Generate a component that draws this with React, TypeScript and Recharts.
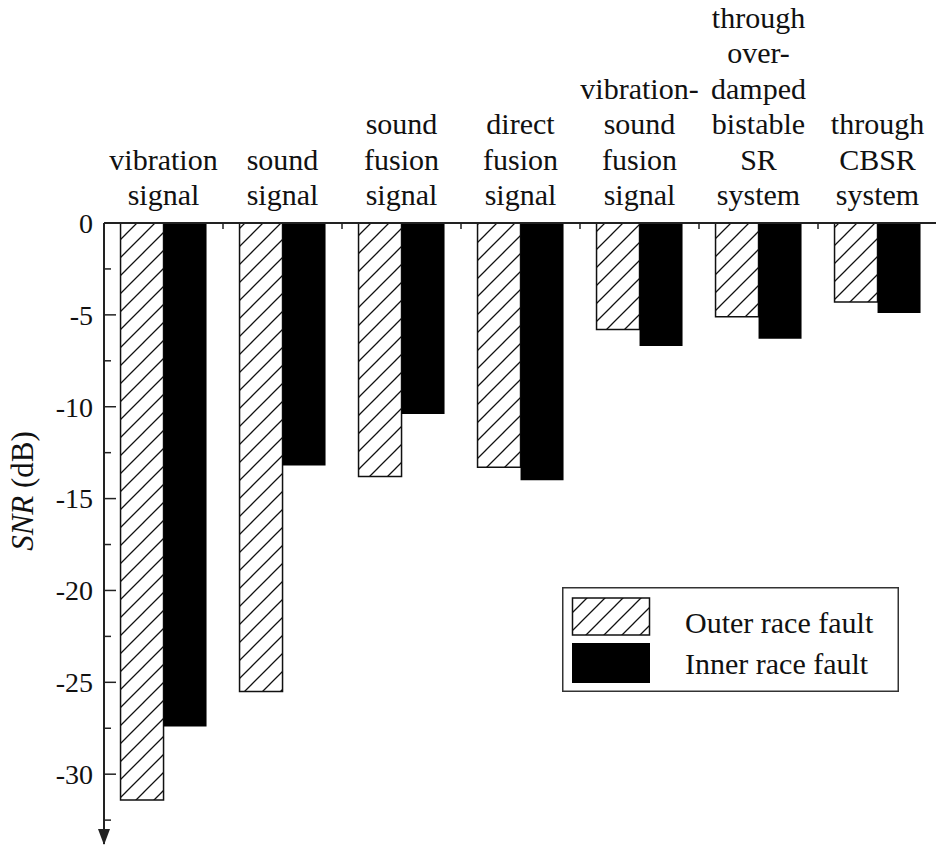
import React from 'react';
import { BarChart, Bar, XAxis, YAxis, Legend } from 'recharts';

const categoryLines: string[][] = [
  ['vibration', 'signal'],
  ['sound', 'signal'],
  ['sound', 'fusion', 'signal'],
  ['direct', 'fusion', 'signal'],
  ['vibration-', 'sound', 'fusion', 'signal'],
  ['through', 'over-', 'damped', 'bistable', 'SR', 'system'],
  ['through', 'CBSR', 'system'],
];
const outerRace = [-31.4, -25.5, -13.8, -13.3, -5.8, -5.1, -4.3];
const innerRace = [-27.4, -13.2, -10.4, -14.0, -6.7, -6.3, -4.9];
const yTicks = [0, -2.5, -5, -7.5, -10, -12.5, -15, -17.5, -20, -22.5, -25, -27.5, -30, -32.5];
const yMajorTicks = [0, -5, -10, -15, -20, -25, -30];
const yEnd = -33.8;

const data = categoryLines.map((lines, i) => ({
  name: lines.join(' '),
  outer: outerRace[i],
  inner: innerRace[i],
}));

const FONT = '"Liberation Serif", "Times New Roman", serif';
const W = 944;
const H = 852;
const MARGIN = { top: 8, right: 7, bottom: 8, left: 8 };
const YAXIS_W = 96;
const XAXIS_H = 215;
const PLOT_W = W - MARGIN.left - MARGIN.right - YAXIS_W;
const BAND = PLOT_W / categoryLines.length;
const AXIS_COLOR = '#222';

const XTick = (props: any) => {
  const { x, y, payload } = props;
  const idx = data.findIndex((d) => d.name === payload.value);
  const lines = idx >= 0 ? categoryLines[idx] : [String(payload.value)];
  const n = lines.length;
  return (
    <g>
      <line x1={x + BAND / 2} x2={x + BAND / 2} y1={y} y2={y + 6} stroke={AXIS_COLOR} strokeWidth={1.5} />
      {lines.map((t, i) => (
        <text
          key={i}
          x={x}
          y={y - 18 - (n - 1 - i) * 35.5}
          textAnchor="middle"
          style={{ fontFamily: FONT }}
          fontSize={30}
          fill="#111"
        >
          {t}
        </text>
      ))}
    </g>
  );
};

const YTick = (props: any) => {
  const { x, y, payload } = props;
  const v = payload.value;
  if (v === yEnd) {
    return (
      <polygon points={`${x - 6},${y - 15} ${x + 6},${y - 15} ${x},${y + 1}`} fill={AXIS_COLOR} />
    );
  }
  const major = yMajorTicks.includes(v);
  return (
    <g>
      <line x1={x} x2={x + (major ? 12 : 7)} y1={y} y2={y} stroke={AXIS_COLOR} strokeWidth={1.5} />
      {major && (
        <text x={x - 11} y={y} dy="0.35em" textAnchor="end" style={{ fontFamily: FONT }} fontSize={28} fill="#111">
          {String(v)}
        </text>
      )}
    </g>
  );
};

const YLabel = () => {
  const cx = 22;
  const cy = 491;
  return (
    <text
      x={cx}
      y={cy}
      transform={`rotate(-90, ${cx}, ${cy})`}
      textAnchor="middle"
      dominantBaseline="central"
      style={{ fontFamily: FONT }}
      fontSize={31}
      fill="#111"
    >
      <tspan fontStyle="italic">SNR</tspan>
      <tspan> (dB)</tspan>
    </text>
  );
};

const LegendBox = () => (
  <svg width={337} height={105} style={{ display: 'block' }}>
    <defs>
      <pattern id="hatchLegend" patternUnits="userSpaceOnUse" width={18} height={18}>
        <path d="M0,18 L18,0 M-4.5,4.5 L4.5,-4.5 M13.5,22.5 L22.5,13.5" stroke="#111" strokeWidth={1.3} />
      </pattern>
    </defs>
    <rect x={0.75} y={0.75} width={335.5} height={103.5} fill="#fff" stroke="#333" strokeWidth={1.5} />
    <rect x={10.5} y={11} width={77} height={37} fill="url(#hatchLegend)" stroke="#111" strokeWidth={1.5} />
    <rect x={10} y={56} width={78} height={40} fill="#000" />
    <text x={123} y={35} dy="0.35em" style={{ fontFamily: FONT }} fontSize={30} fill="#111">
      Outer race fault
    </text>
    <text x={123} y={76} dy="0.35em" style={{ fontFamily: FONT }} fontSize={30} fill="#111">
      Inner race fault
    </text>
  </svg>
);

export default function App() {
  return (
    <div style={{ width: W, height: H, marginTop: -8, marginLeft: -8 }}>
      <BarChart width={W} height={H} data={data} margin={MARGIN} barCategoryGap="13.9%" barGap={0}>
        <defs>
          <pattern id="hatch" patternUnits="userSpaceOnUse" width={18} height={18}>
            <path d="M0,18 L18,0 M-4.5,4.5 L4.5,-4.5 M13.5,22.5 L22.5,13.5" stroke="#111" strokeWidth={1.3} />
          </pattern>
        </defs>
        <XAxis
          dataKey="name"
          orientation="top"
          height={XAXIS_H}
          interval={0}
          tickLine={false}
          tickSize={0}
          tickMargin={0}
          axisLine={{ stroke: AXIS_COLOR, strokeWidth: 2 }}
          tick={<XTick />}
        />
        <YAxis
          type="number"
          domain={[yEnd, 0]}
          ticks={[...yTicks, yEnd]}
          interval={0}
          width={YAXIS_W}
          tickLine={false}
          tickSize={0}
          tickMargin={0}
          axisLine={{ stroke: AXIS_COLOR, strokeWidth: 2 }}
          tick={<YTick />}
          label={<YLabel />}
        />
        <Legend
          layout="vertical"
          align="center"
          verticalAlign="middle"
          content={() => <LegendBox />}
          wrapperStyle={{ position: 'absolute', left: 562, top: 587, width: 337, height: 105 }}
        />
        <Bar dataKey="outer" name="Outer race fault" fill="url(#hatch)" stroke="#111" strokeWidth={1.5} isAnimationActive={false} />
        <Bar dataKey="inner" name="Inner race fault" fill="#000" isAnimationActive={false} />
      </BarChart>
    </div>
  );
}
